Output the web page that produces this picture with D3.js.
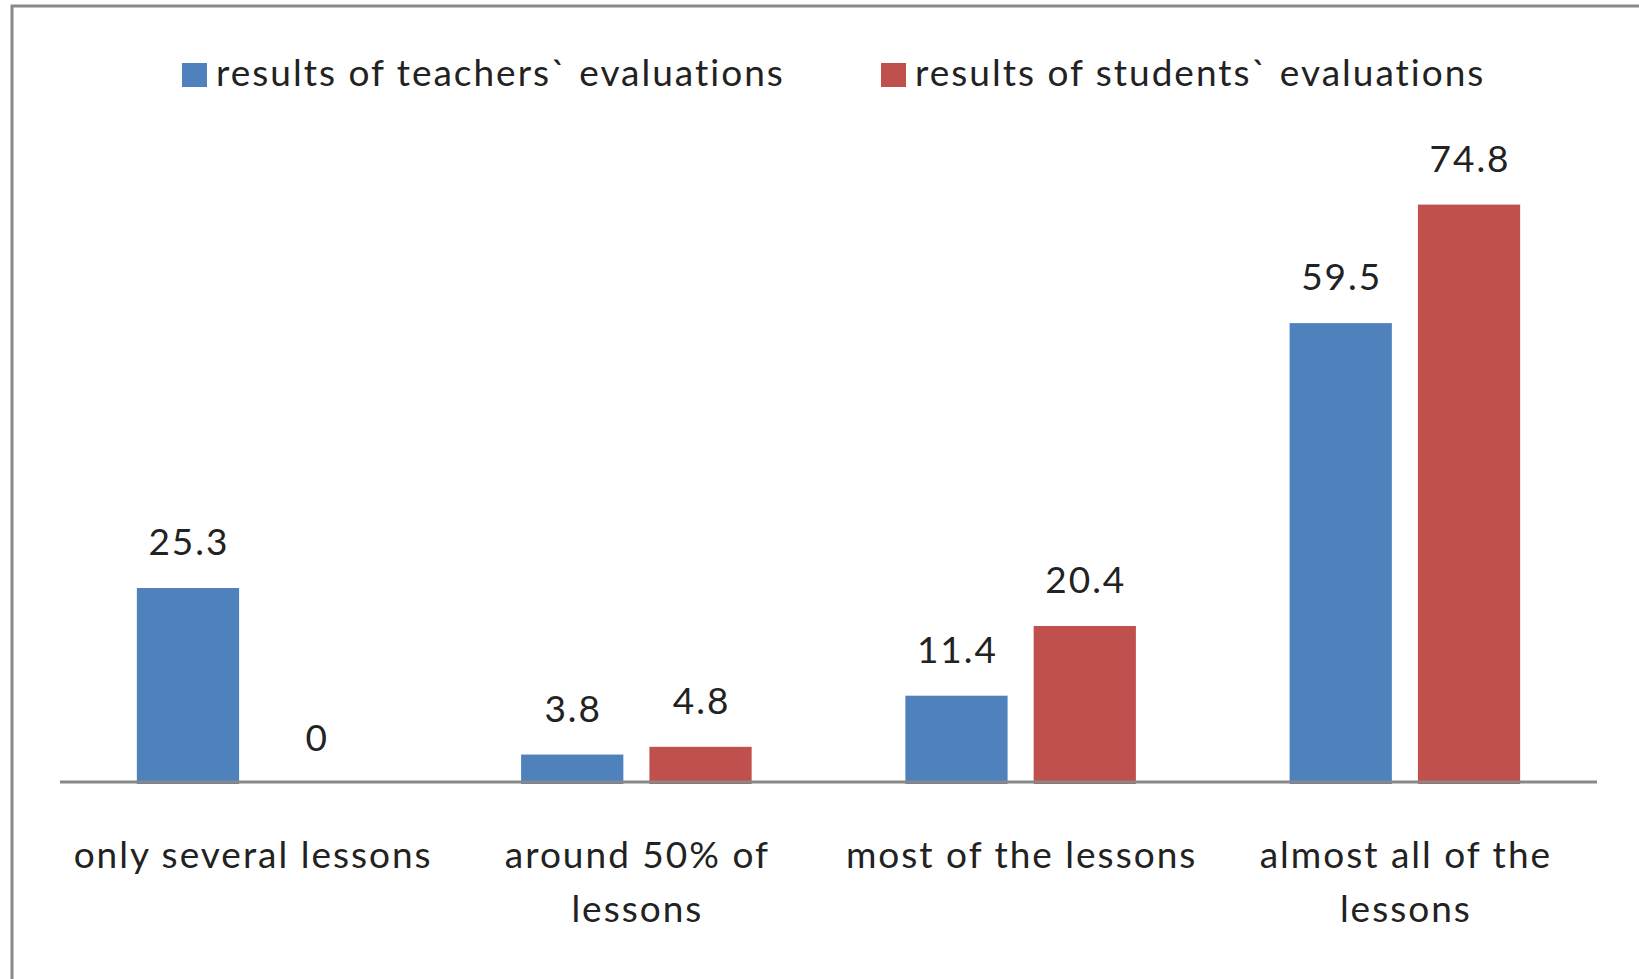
<!DOCTYPE html>
<html>
<head>
<meta charset="utf-8">
<script src="https://cdn.jsdelivr.net/npm/d3@7"></script>
<style>
  body { margin: 0; background: #fff; }
  text { font-family: Lato, "Open Sans", sans-serif; fill: #222; letter-spacing: 2px; }
</style>
</head>
<body>
<svg id="chart"></svg>
<script>
const categories = ["only several lessons", "around 50% of lessons", "most of the lessons", "almost all of the lessons"];
const tickLines = [["only several lessons"], ["around 50% of", "lessons"], ["most of the lessons"], ["almost all of the", "lessons"]];
const seriesNames = ["results of teachers` evaluations", "results of students` evaluations"];
const teachers = [25.3, 3.8, 11.4, 59.5];
const students = [0, 4.8, 20.4, 74.8];

const colors = ["#4f81bd", "#c0504d"];

const W = 1639, H = 979;
const svg = d3.select("#chart").attr("width", W).attr("height", H);

// outer frame (runs off right and bottom)
svg.append("rect")
  .attr("x", 12).attr("y", 6)
  .attr("width", 1700).attr("height", 1100)
  .attr("fill", "none")
  .attr("stroke", "#8a8a8a")
  .attr("stroke-width", 3);

const plot = {left: 60, right: 1597, base: 784};

const x0 = d3.scaleBand()
  .domain(categories)
  .range([plot.left, plot.right])
  .paddingInner(0.4)
  .paddingOuter(0.2);

const x1 = d3.scaleBand()
  .domain(seriesNames)
  .range([0, x0.bandwidth()])
  .paddingInner(0.203);

const y = d3.scaleLinear()
  .domain([0, 80])
  .range([plot.base, plot.base - 80 * 7.746]);

const rows = categories.map((c, i) => ({
  cat: c,
  values: [
    {key: seriesNames[0], value: teachers[i], color: colors[0]},
    {key: seriesNames[1], value: students[i], color: colors[1]}
  ]
}));

const groups = svg.selectAll(".grp")
  .data(rows)
  .enter().append("g")
  .attr("class", "grp")
  .attr("transform", d => `translate(${x0(d.cat)},0)`);

groups.selectAll("rect")
  .data(d => d.values)
  .enter().append("rect")
  .attr("x", d => x1(d.key))
  .attr("width", x1.bandwidth())
  .attr("y", d => y(d.value))
  .attr("height", d => y(0) - y(d.value))
  .attr("fill", d => d.color);

groups.selectAll(".val")
  .data(d => d.values)
  .enter().append("text")
  .attr("class", "val")
  .attr("x", d => x1(d.key) + x1.bandwidth() / 2 + 1)
  .attr("y", d => y(d.value) - 33)
  .attr("text-anchor", "middle")
  .attr("font-size", "37px")
  .text(d => d.value);

// category axis
svg.append("line")
  .attr("x1", plot.left).attr("x2", plot.right)
  .attr("y1", 782).attr("y2", 782)
  .attr("stroke", "#888")
  .attr("stroke-width", 3);

categories.forEach((c, i) => {
  const cx = x0(c) + x0.bandwidth() / 2 + 1;
  const t = svg.append("text")
    .attr("text-anchor", "middle")
    .attr("font-size", "37px")
    .attr("x", cx)
    .attr("y", 868);
  tickLines[i].forEach((ln, j) => {
    t.append("tspan")
      .attr("x", cx)
      .attr("dy", j == 0 ? 0 : 54)
      .text(ln);
  });
});

// legend
const legendX = [182, 881];
seriesNames.forEach((s, i) => {
  const lg = svg.append("g").attr("transform", `translate(${legendX[i]},0)`);
  lg.append("rect")
    .attr("x", 0).attr("y", 63)
    .attr("width", 25).attr("height", 24)
    .attr("fill", colors[i]);
  lg.append("text")
    .attr("x", 34).attr("y", 86)
    .attr("font-size", "37px")
    .text(s);
});
</script>
</body>
</html>
